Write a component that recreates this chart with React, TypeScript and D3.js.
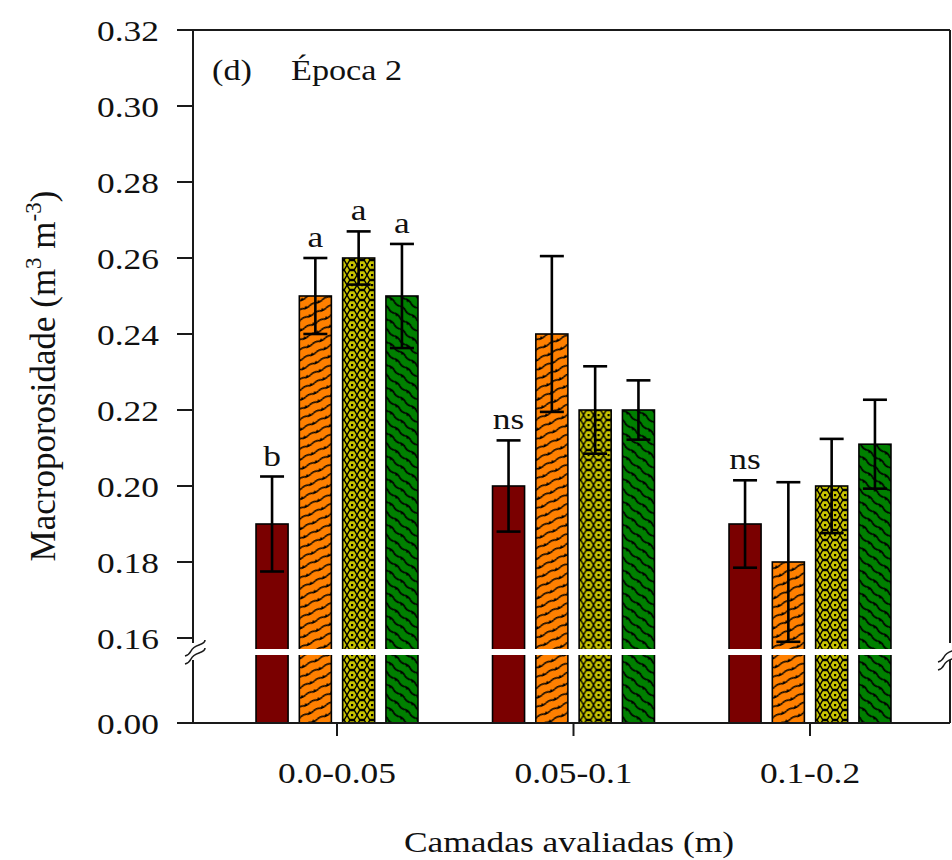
import * as d3 from 'd3'

const categories = ['0.0-0.05', '0.05-0.1', '0.1-0.2']
const series = ['s1', 's2', 's3', 's4']
const means = [
  [0.19, 0.25, 0.26, 0.25],
  [0.2, 0.24, 0.22, 0.22],
  [0.19, 0.18, 0.2, 0.211],
]
const errors = [
  [0.0125, 0.01, 0.007, 0.0137],
  [0.012, 0.0205, 0.0115, 0.0078],
  [0.0115, 0.021, 0.0124, 0.0117],
]
const letters = [
  ['b', 'a', 'a', 'a'],
  ['ns', '', '', ''],
  ['ns', '', '', ''],
]
const upperTicks = [0.16, 0.18, 0.2, 0.22, 0.24, 0.26, 0.28, 0.3, 0.32]
const lowerTicks = [0]

const fills = ['#7a0000', 'url(#pOrange)', 'url(#pYellow)', 'url(#pGreen)']

const W = 952
const H = 860
const left = 193
const right = 950
const bottom = 723
const breakValue = 0.1575
const gapTop = 649
const gapBottom = 655
const sx = 1.18
const ink = '#1a1a1a'
const font = '"Liberation Serif", "Times New Roman", serif'

const upper = d3.scaleLinear().domain([0.16, 0.32]).range([638, 30])
const lower = d3.scaleLinear().domain([0, breakValue]).range([bottom, gapBottom])
const y = (v: number) => (v >= breakValue ? upper(v) : lower(v))

const x0 = d3.scaleBand().domain(categories).range([218.75, 928.25]).padding(0)
const x1 = d3.scaleBand().domain(series).range([-86.6, 86.6]).padding(0)
const barW = x1.bandwidth() * 0.74
const capW = 24

function Txt({ x, y, children, anchor = 'middle', size = 30 }: any) {
  return (
    <text
      transform={`translate(${x},${y}) scale(${sx},1)`}
      textAnchor={anchor}
      fontSize={size}
      fontFamily={font}
      fill="#111"
    >
      {children}
    </text>
  )
}

function BreakMark({ cx, cy }: { cx: number; cy: number }) {
  const s = (dy: number) =>
    `M${cx - 10},${cy + dy + 8} q4,-1 6,-5 t8,-6 t6,-5`
  return (
    <g stroke={ink} strokeWidth={1.6} fill="none">
      <path d={s(-4)} />
      <path d={s(4)} />
    </g>
  )
}

export default function App() {
  const breakMid = (gapTop + gapBottom) / 2
  return (
    <svg width={W} height={H} style={{ position: 'absolute', left: 0, top: 0, background: '#fff' }}>
      <defs>
        <pattern id="pOrange" width={14} height={9} patternUnits="userSpaceOnUse" patternTransform="rotate(-25)">
          <rect width={14} height={9} fill="#ff8000" />
          <path d="M0,4.5 Q3.5,2.8 7,4.5 T14,4.5" stroke="#000" strokeWidth={1.5} fill="none" />
          <rect x={9} y={3.5} width={2} height={2} fill="#000" />
        </pattern>
        <pattern id="pGreen" width={14} height={9} patternUnits="userSpaceOnUse" patternTransform="rotate(38)">
          <rect width={14} height={9} fill="#008000" />
          <path d="M0,4.5 Q3.5,2.8 7,4.5 T14,4.5" stroke="#000" strokeWidth={1.6} fill="none" />
          <rect x={2} y={3.5} width={2} height={2} fill="#000" />
        </pattern>
        <pattern id="pYellow" width={10} height={10} patternUnits="userSpaceOnUse">
          <rect width={10} height={10} fill="#c8c400" />
          <path d="M2.5,0.6 L7.5,0.6 L10,5 L7.5,9.4 L2.5,9.4 L0,5 Z" stroke="#000" strokeWidth={1.4} fill="none" />
          <rect x={4} y={4} width={2.2} height={2.2} fill="#000" />
        </pattern>
      </defs>

      {/* bars */}
      {categories.map((c, i) => (
        <g key={c} transform={`translate(${x0(c)! + x0.bandwidth() / 2},0)`}>
          {series.map((s, j) => {
            const cx = x1(s)! + x1.bandwidth() / 2
            const v = means[i][j]
            return (
              <rect
                key={s}
                x={cx - barW / 2}
                y={y(v)}
                width={barW}
                height={y(0) - y(v)}
                fill={fills[j]}
                stroke="#000"
                strokeWidth={1.6}
              />
            )
          })}
        </g>
      ))}

      {/* axis break gap */}
      <rect x={left + 1} y={gapTop} width={right - left - 2} height={gapBottom - gapTop} fill="#fff" />

      {/* error bars and letters */}
      {categories.map((c, i) => (
        <g key={c} transform={`translate(${x0(c)! + x0.bandwidth() / 2},0)`}>
          {series.map((s, j) => {
            const cx = x1(s)! + x1.bandwidth() / 2
            const hi = y(means[i][j] + errors[i][j])
            const lo = y(means[i][j] - errors[i][j])
            return (
              <g key={s} stroke="#000" strokeWidth={2.6}>
                <line x1={cx} x2={cx} y1={hi} y2={lo} />
                <line x1={cx - capW / 2} x2={cx + capW / 2} y1={hi} y2={hi} />
                <line x1={cx - capW / 2} x2={cx + capW / 2} y1={lo} y2={lo} />
                {letters[i][j] && (
                  <g stroke="none">
                    <Txt x={cx} y={hi - 11}>{letters[i][j]}</Txt>
                  </g>
                )}
              </g>
            )
          })}
        </g>
      ))}

      {/* frame */}
      <g stroke={ink} strokeWidth={2} fill="none">
        <line x1={left} x2={right} y1={upper(0.32)} y2={upper(0.32)} />
        <line x1={left - 16} x2={right} y1={bottom} y2={bottom} />
        <line x1={left} x2={left} y1={upper(0.32)} y2={breakMid - 9} />
        <line x1={left} x2={left} y1={breakMid + 8} y2={bottom} />
        <line x1={right} x2={right} y1={upper(0.32)} y2={breakMid - 9} />
        <line x1={right} x2={right} y1={breakMid + 8} y2={bottom} />
        {upperTicks.map((t) => (
          <line key={t} x1={left - 16} x2={left} y1={upper(t)} y2={upper(t)} />
        ))}
        {lowerTicks.map((t) => (
          <line key={t} x1={left - 16} x2={left} y1={lower(t)} y2={lower(t)} />
        ))}
        {categories.map((c) => {
          const cx = x0(c)! + x0.bandwidth() / 2
          return <line key={c} x1={cx} x2={cx} y1={bottom} y2={bottom + 13} />
        })}
      </g>
      <BreakMark cx={left + 2} cy={breakMid} />
      <BreakMark cx={right - 2} cy={breakMid + 6} />

      {/* tick labels */}
      {upperTicks.map((t) => (
        <Txt key={t} x={159} y={upper(t) + 11} anchor="end">{t.toFixed(2)}</Txt>
      ))}
      {lowerTicks.map((t) => (
        <Txt key={t} x={159} y={lower(t) + 11} anchor="end">{t.toFixed(2)}</Txt>
      ))}
      {categories.map((c) => (
        <Txt key={c} x={x0(c)! + x0.bandwidth() / 2} y={783}>{c}</Txt>
      ))}

      {/* titles */}
      <Txt x={569} y={852}>Camadas avaliadas (m)</Txt>
      <Txt x={212} y={80} anchor="start" size={29}>(d)</Txt>
      <Txt x={291} y={80} anchor="start" size={29}>Época 2</Txt>
      <text
        transform="translate(55,376) rotate(-90)"
        textAnchor="middle"
        fontSize={35}
        fontFamily={font}
        fill="#111"
      >
        Macroporosidade (m
        <tspan fontSize={23} dy={-14}>3</tspan>
        <tspan dy={14}> m</tspan>
        <tspan fontSize={23} dy={-14}>-3</tspan>
        <tspan dy={14}>)</tspan>
      </text>
    </svg>
  )
}
